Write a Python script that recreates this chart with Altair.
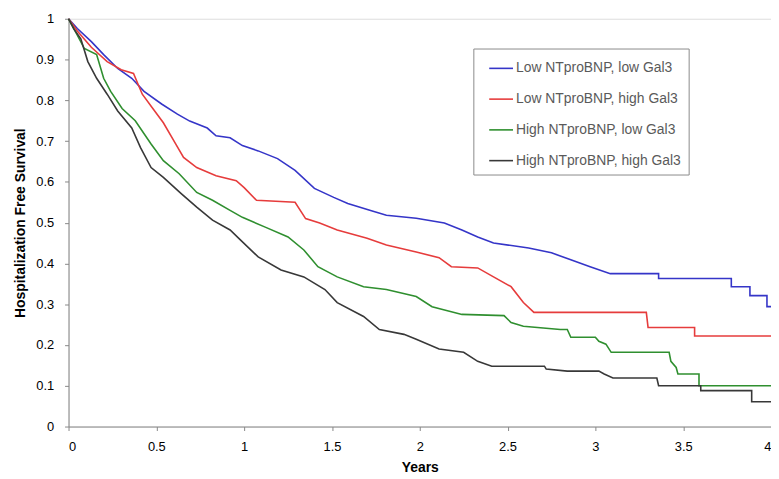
import altair as alt
import pandas as pd

series_names = [
    "Low NTproBNP, low Gal3",
    "Low NTproBNP, high Gal3",
    "High NTproBNP, low Gal3",
    "High NTproBNP, high Gal3",
]
series_colors = ["#3535c8", "#e63c3c", "#2f8f2f", "#383838"]

blue_t = [0, 0.05, 0.13, 0.20, 0.28, 0.36, 0.43, 0.53, 0.62, 0.69, 0.79, 0.84, 0.92, 0.99,
          1.08, 1.19, 1.29, 1.40, 1.51, 1.59, 1.72, 1.81, 1.98, 2.14, 2.24, 2.33, 2.42,
          2.62, 2.75, 2.86, 2.97, 3.085, 3.36, 3.36, 3.774, 3.774, 3.88, 3.88, 3.977, 3.977,
          4.0]
blue_s = [1.0, 0.976, 0.944, 0.912, 0.878, 0.854, 0.822, 0.791, 0.766, 0.749, 0.732, 0.713,
          0.708, 0.689, 0.676, 0.657, 0.628, 0.584, 0.562, 0.547, 0.530, 0.518, 0.511, 0.499,
          0.482, 0.465, 0.450, 0.438, 0.426, 0.409, 0.392, 0.375, 0.375, 0.363, 0.363, 0.343,
          0.343, 0.321, 0.321, 0.294, 0.294]

red_t = [0, 0.05, 0.13, 0.22, 0.30, 0.37, 0.42, 0.48, 0.54, 0.61, 0.655, 0.73, 0.84, 0.955,
         1.00, 1.07, 1.29, 1.35, 1.43, 1.53, 1.70, 1.81, 1.98, 2.11, 2.18, 2.33, 2.42, 2.52,
         2.59, 2.65, 3.29, 3.30, 3.565, 3.565, 4.0]
red_s = [1.0, 0.97, 0.93, 0.895, 0.875, 0.866, 0.815, 0.78, 0.745, 0.693, 0.66, 0.635, 0.615,
         0.603, 0.586, 0.555, 0.55, 0.51, 0.499, 0.482, 0.462, 0.445, 0.428, 0.414, 0.392,
         0.389, 0.367, 0.343, 0.304, 0.28, 0.28, 0.243, 0.243, 0.222, 0.222]

green_t = [0, 0.05, 0.09, 0.16, 0.20, 0.24, 0.305, 0.38, 0.47, 0.54, 0.63, 0.73, 0.82, 0.92,
           0.99, 1.12, 1.25, 1.34, 1.42, 1.53, 1.68, 1.81, 1.98, 2.07, 2.24, 2.48, 2.52, 2.59,
           2.80, 2.84, 2.86, 3.00, 3.02, 3.06, 3.09, 3.42, 3.43, 3.46, 3.47, 3.59, 3.59, 4.0]
green_s = [1.0, 0.96, 0.927, 0.912, 0.854, 0.822, 0.78, 0.75, 0.693, 0.652, 0.62, 0.574, 0.555,
           0.53, 0.513, 0.489, 0.465, 0.433, 0.392, 0.367, 0.343, 0.336, 0.319, 0.294, 0.275,
           0.272, 0.255, 0.246, 0.238, 0.238, 0.219, 0.219, 0.209, 0.202, 0.182, 0.182, 0.16,
           0.145, 0.129, 0.129, 0.10, 0.10]

black_t = [0, 0.03, 0.07, 0.11, 0.16, 0.22, 0.28, 0.36, 0.41, 0.47, 0.54, 0.64, 0.73, 0.82,
           0.92, 0.98, 1.08, 1.21, 1.34, 1.46, 1.53, 1.68, 1.77, 1.91, 1.98, 2.11, 2.25, 2.33,
           2.41, 2.71, 2.72, 2.84, 3.02, 3.05, 3.10, 3.35, 3.36, 3.60, 3.60, 3.89, 3.89, 4.0]
black_s = [1.0, 0.975, 0.951, 0.895, 0.854, 0.815, 0.774, 0.732, 0.684, 0.635, 0.611, 0.572,
           0.538, 0.506, 0.482, 0.457, 0.416, 0.384, 0.367, 0.336, 0.304, 0.27, 0.238, 0.226,
           0.214, 0.19, 0.182, 0.16, 0.148, 0.148, 0.141, 0.136, 0.136, 0.129, 0.119, 0.119,
           0.10, 0.10, 0.088, 0.088, 0.061, 0.061]

x_ticks = [0, 0.5, 1, 1.5, 2, 2.5, 3, 3.5, 4]
y_ticks = [0, 0.1, 0.2, 0.3, 0.4, 0.5, 0.6, 0.7, 0.8, 0.9, 1]

rows = []
for name, ts, ss in zip(series_names, [blue_t, red_t, green_t, black_t],
                        [blue_s, red_s, green_s, black_s]):
    for i, (t, s) in enumerate(zip(ts, ss)):
        rows.append({"Years": t, "Survival": s, "Group": name, "idx": i})
df = pd.DataFrame(rows)

FONT = "Liberation Sans"

chart = (
    alt.Chart(df)
    .mark_line(strokeWidth=1.6)
    .encode(
        x=alt.X(
            "Years:Q",
            scale=alt.Scale(domain=[0, 4], nice=False),
            axis=alt.Axis(
                values=x_ticks, format=".1~f", title="Years", grid=False,
                tickSize=4, labelPadding=10, titlePadding=7,
                labelFontSize=13, titleFontSize=14,
            ),
        ),
        y=alt.Y(
            "Survival:Q",
            scale=alt.Scale(domain=[0, 1], nice=False),
            axis=alt.Axis(
                values=y_ticks, format=".1~f", title="Hospitalization Free Survival",
                grid=False, tickSize=4, labelPadding=11, titlePadding=8,
                labelFontSize=13, titleFontSize=14,
            ),
        ),
        color=alt.Color(
            "Group:N",
            scale=alt.Scale(domain=series_names, range=series_colors),
            sort=series_names,
            legend=alt.Legend(
                title=None, orient="none", legendX=408, legendY=30,
                symbolType="stroke", symbolSize=576, symbolStrokeWidth=1.6,
                symbolOffset=8, labelOffset=2, labelLimit=400,
                labelFontSize=14, labelColor="#5a5a5a", labelFont=FONT,
                rowPadding=11, padding=7,
                strokeColor="#8a8a8a", fillColor="white",
            ),
        ),
        order=alt.Order("idx:Q"),
    )
    .properties(
        width=708,
        height=411,
        autosize=alt.AutoSizeParams(type="none"),
        padding={"left": 61, "top": 9, "right": 0, "bottom": 48},
    )
    .configure_view(stroke="#bdbdbd", strokeWidth=1)
    .configure_axis(
        labelFont=FONT, titleFont=FONT, labelColor="#666666", titleColor="#111111",
        titleFontWeight="bold", domainColor="#808080", domainWidth=1.5,
        tickColor="#808080", tickWidth=1,
    )
    .configure(background="white")
)

chart.save("out.html", embed_options={"renderer": "svg", "actions": False})
